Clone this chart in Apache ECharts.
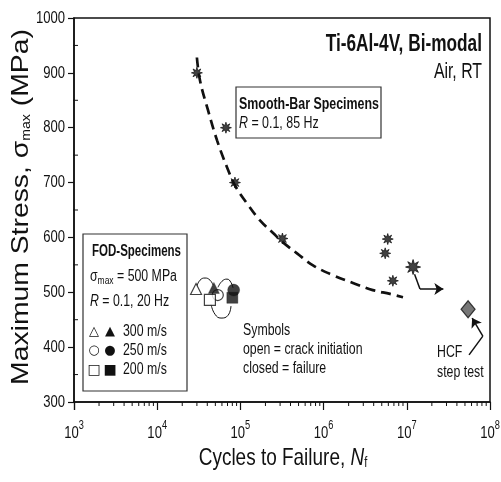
<!DOCTYPE html>
<html>
<head>
<meta charset="utf-8">
<script src="https://cdn.jsdelivr.net/npm/echarts@6/dist/echarts.min.js"></script>
<style>
  html, body { margin: 0; padding: 0; background: #fff; }
  #chart { width: 501px; height: 482px; }
</style>
</head>
<body>
<div id="chart"></div>
<script>
// ---- data (cycles to failure, max stress in MPa) ----
const smoothBar = [[3.0e4, 900], [6.7e4, 800], [8.6e4, 700], [3.2e5, 598], [5.5e6, 571], [5.9e6, 597], [6.8e6, 521]];
const runOut = [[1.19e7, 546]];
const runOutArrow = [[1.24e7, 533], [1.44e7, 506], [2.75e7, 506]];
const hcfStep = [[5.45e7, 469]];
const hcfArrow = [[5.6e7, 386], [8.2e7, 420], [6.1e7, 453]];
const trendCurve = [[3.0e4, 928], [3.27e4, 886], [4.08e4, 832], [5.24e4, 777], [6.9e4, 728], [8.6e4, 695],
  [1.2e5, 662], [1.72e5, 631], [2.47e5, 608], [3.25e5, 591], [4.79e5, 571], [7.46e5, 549],
  [1.3e6, 531], [2.25e6, 517], [3.9e6, 504], [6.3e6, 497], [9.0e6, 491]];
// FOD specimens: open = crack initiation, closed = failure
const fod300Open = [[2.93e4, 506]];
const fod300Closed = [[4.8e4, 508]];
const fod250Open = [[5.35e4, 495]];
const fod250Closed = [[8.3e4, 504]];
const fod200Open = [[4.3e4, 486]];
const fod200Closed = [[8.0e4, 490]];
// connectors linking initiation to failure of the same specimen
const link300 = [[3.0e4, 511], [3.27e4, 522], [3.76e4, 526], [4.32e4, 522], [4.69e4, 513]];
const link250 = [[5.38e4, 509], [6.0e4, 520], [6.9e4, 524], [7.7e4, 518], [8.15e4, 508]];
const link200 = [[4.44e4, 478], [4.95e4, 460], [5.85e4, 453], [7.1e4, 458], [7.7e4, 475]];
// axes
const xMin = 1e3, xMax = 1e8;
const yMin = 300, yMax = 1000, yStep = 100;
const xDecades = [3, 4, 5, 6, 7, 8];
const yTicks = [300, 400, 500, 600, 700, 800, 900, 1000];

const FONT = '"Liberation Sans", Arial, Helvetica, sans-serif';
const INK = '#111';
const NARROW = 0.77;   // horizontal squeeze giving a condensed face

// minor tick positions: 2..9 within each decade, and half-steps on the stress axis
const xMinor = [];
for (let e = 3; e < 8; e++) for (let m = 2; m <= 9; m++) xMinor.push([m * Math.pow(10, e), yMin]);
const yMinor = [];
for (let v = yMin + yStep / 2; v < yMax; v += yStep) yMinor.push([xMin, v]);

function starPath(n, ro, ri) {
  let d = '';
  for (let i = 0; i < 2 * n; i++) {
    const r = i % 2 ? ri : ro;
    const a = Math.PI * i / n - Math.PI / 2;
    d += (i ? 'L' : 'M') + (50 + 50 * r * Math.cos(a)).toFixed(2) + ',' + (50 + 50 * r * Math.sin(a)).toFixed(2);
  }
  return 'path://' + d + 'Z';
}
const STAR = starPath(8, 1, 0.45);

const chart = echarts.init(document.getElementById('chart'), null, { renderer: 'canvas' });

function pointSeries(data, symbol, size, filled, border) {
  return {
    type: 'scatter', data: data, symbol: symbol, symbolSize: size, z: 5,
    itemStyle: { color: filled ? INK : '#fff', borderColor: INK, borderWidth: border != null ? border : (filled ? 0.4 : 1.2) }
  };
}
function linkSeries(data) {
  return {
    type: 'line', data: data, smooth: true, showSymbol: false, z: 3,
    lineStyle: { color: INK, width: 1 }
  };
}
function tickSeries(data, horizontal) {
  return {
    type: 'custom', data: data, z: 6, silent: true, clip: false,
    renderItem: function (params, api) {
      const p = api.coord([api.value(0), api.value(1)]);
      return {
        type: 'line',
        shape: horizontal ? { x1: p[0] - 1, y1: p[1], x2: p[0] + 4, y2: p[1] }
                          : { x1: p[0], y1: p[1], x2: p[0], y2: p[1] + 4 },
        style: { stroke: INK, lineWidth: 1 }
      };
    }
  };
}
// condensed tick labels placed through the axis scales
const xLabelSeries = {
  type: 'custom', data: xDecades.map(function (e) { return [Math.pow(10, e), yMin, e]; }),
  z: 6, silent: true, clip: false,
  renderItem: function (params, api) {
    const p = api.coord([api.value(0), api.value(1)]);
    return {
      type: 'text', x: p[0], y: p[1] + 29, scaleX: NARROW,
      style: {
        text: '{b|10}{s|' + api.value(2) + '}', align: 'center', verticalAlign: 'middle',
        rich: {
          b: { font: '17px ' + FONT, fill: INK, lineHeight: 22, verticalAlign: 'bottom' },
          s: { font: '12px ' + FONT, fill: INK, lineHeight: 22, verticalAlign: 'top' }
        }
      }
    };
  }
};
const yLabelSeries = {
  type: 'custom', data: yTicks.map(function (v) { return [xMin, v]; }),
  z: 6, silent: true, clip: false,
  renderItem: function (params, api) {
    const p = api.coord([api.value(0), api.value(1)]);
    return {
      type: 'text', x: p[0] - 9, y: p[1], scaleX: NARROW,
      style: { text: String(api.value(1)), font: '17px ' + FONT, fill: INK, align: 'right', verticalAlign: 'middle' }
    };
  }
};

function note(x, y, text, size, opts) {
  opts = opts || {};
  return {
    type: 'text', x: x, y: y, scaleX: opts.scale || NARROW, rotation: opts.rotation || 0,
    style: {
      text: text, font: (opts.bold ? 'bold ' : '') + size + 'px ' + FONT, fill: INK,
      align: opts.align || 'left', verticalAlign: 'middle', rich: opts.rich
    }
  };
}
function glyph(x, y, ch, size) {
  return { type: 'text', x: x, y: y, style: { text: ch, font: size + 'px "DejaVu Sans"', fill: INK, align: 'center', verticalAlign: 'middle' } };
}
const italic = function (size) { return { font: 'italic ' + size + 'px ' + FONT, fill: INK }; };
const sub = function (size, pad) { return { font: size + 'px ' + FONT, fill: INK, verticalAlign: 'bottom', padding: [pad, 0, 0, 0] }; };

const option = {
  animation: false,
  backgroundColor: '#fff',
  grid: { left: 74, right: 11, top: 18, bottom: 80, containLabel: false, outerBoundsMode: 'none',
          show: true, borderColor: INK, borderWidth: 1.5, backgroundColor: 'transparent' },
  xAxis: {
    type: 'log', logBase: 10, min: xMin, max: xMax,
    axisLine: { lineStyle: { color: INK, width: 1.5 } },
    axisTick: { inside: false, length: 8, lineStyle: { color: INK, width: 1.2 } },
    splitLine: { show: false },
    axisLabel: { show: false }
  },
  yAxis: {
    type: 'value', min: yMin, max: yMax, interval: yStep,
    axisLine: { show: true, lineStyle: { color: INK, width: 1.5 } },
    axisTick: { show: true, inside: false, length: 6, lineStyle: { color: INK, width: 1.2 } },
    splitLine: { show: false },
    axisLabel: { show: false }
  },
  series: [
    tickSeries(xMinor, false),
    tickSeries(yMinor, true),
    xLabelSeries,
    yLabelSeries,
    {
      type: 'line', data: trendCurve, smooth: 0.4, showSymbol: false, z: 2,
      lineStyle: { color: INK, width: 2.7, type: [10, 6] }
    },
    pointSeries(smoothBar, STAR, 11, true, 0.9),
    pointSeries(runOut, STAR, 15, true, 1),
    {
      type: 'scatter', data: hcfStep, symbol: 'diamond', symbolSize: [14, 17], z: 5,
      itemStyle: { color: '#555', borderColor: INK, borderWidth: 1.2 }
    },
    {
      // first legs of the two pointer arrows
      type: 'lines', coordinateSystem: 'cartesian2d', z: 4, symbol: 'none',
      lineStyle: { color: INK, width: 1.5, opacity: 1 },
      data: [{ coords: [runOutArrow[0], runOutArrow[1]] }, { coords: [hcfArrow[0], hcfArrow[1]] }]
    },
    {
      // final legs with arrow heads
      type: 'lines', coordinateSystem: 'cartesian2d', z: 4,
      symbol: ['none', 'arrow'], symbolSize: 9,
      lineStyle: { color: INK, width: 1.5, opacity: 1 },
      data: [{ coords: [runOutArrow[1], runOutArrow[2]] }, { coords: [hcfArrow[1], hcfArrow[2]] }]
    },
    linkSeries(link300), linkSeries(link250), linkSeries(link200),
    pointSeries(fod300Open, 'triangle', 11, false),
    pointSeries(fod250Open, 'circle', 11, false),
    pointSeries(fod200Open, 'rect', 11, false),
    pointSeries(fod300Closed, 'triangle', 11, true),
    pointSeries(fod250Closed, 'circle', 12, true),
    pointSeries(fod200Closed, 'rect', 11, true)
  ],
  graphic: [
    // axis titles
    note(283, 458, 'Cycles to Failure, {i|N}{s|f}', 24, { scale: 0.79, align: 'center',
      rich: { i: italic(24), s: sub(14, 10) } }),
    note(21, 207, 'Maximum Stress, σ{s|max} (MPa)', 24, { scale: 1.18, align: 'center', rotation: Math.PI / 2,
      rich: { s: sub(12, 10) } }),

    note(482, 45, 'Ti-6Al-4V, Bi-modal', 23, { bold: true, align: 'right', scale: 0.75 }),
    note(482, 72, 'Air, RT', 22, { align: 'right', scale: 0.72 }),

    { type: 'rect', shape: { x: 236, y: 87, width: 145, height: 51 }, style: { fill: 'none', stroke: '#333', lineWidth: 1.2 } },
    note(239, 104, 'Smooth-Bar Specimens', 17, { bold: true, scale: 0.73 }),
    note(239, 123, '{i|R} = 0.1, 85 Hz', 17, { scale: 0.73, rich: { i: italic(17) } }),

    { type: 'rect', shape: { x: 83, y: 234, width: 104, height: 157 }, style: { fill: '#fff', stroke: '#333', lineWidth: 1.2 } },
    note(92, 252, 'FOD-Specimens', 16, { bold: true, scale: 0.72 }),
    note(90, 277, 'σ{s|max} = 500 MPa', 16, { rich: { s: sub(11, 7) } }),
    note(90, 302, '{i|R} = 0.1, 20 Hz', 16, { rich: { i: italic(16) } }),
    glyph(94, 332, '△', 13), glyph(110, 332, '▲', 13), note(123, 332, '300 m/s', 16),
    glyph(94, 351, '○', 13), glyph(110, 351, '●', 13), note(123, 351, '250 m/s', 16),
    glyph(94, 370, '□', 14), glyph(110, 370, '■', 14), note(123, 370, '200 m/s', 16),

    note(243, 331, 'Symbols', 16),
    note(243, 350, 'open = crack initiation', 16),
    note(243, 369, 'closed = failure', 16),

    note(437, 353, 'HCF', 16),
    note(437, 373, 'step test', 16)
  ]
};
chart.setOption(option);
</script>
</body>
</html>
